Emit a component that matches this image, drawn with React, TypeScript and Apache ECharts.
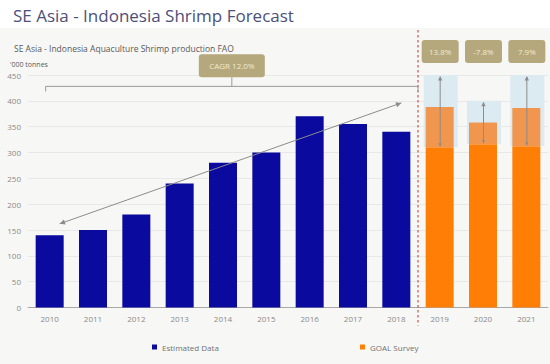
import React, { useEffect, useRef } from 'react';
import * as echarts from 'echarts';

const years = ['2010', '2011', '2012', '2013', '2014', '2015', '2016', '2017', '2018', '2019', '2020', '2021'];
const estimated = [140, 150, 180, 240, 280, 300, 370, 355, 340, null, null, null];
const goalBase = [null, null, null, null, null, null, null, null, null, 310, 316, 312];
const goalSurvey = [null, null, null, null, null, null, null, null, null, 388, 358, 386];
const forecastHigh = [null, null, null, null, null, null, null, null, null, 450, 400, 450];
const growthLabels = ['', '', '', '', '', '', '', '', '', '13.8%', '-7.8%', '7.9%'];
const yMin = 0;
const yMax = 450;
const yInterval = 50;
const cagrLabel = 'CAGR 12.0%';
const trendFrom = { year: '2010', value: 162 };
const trendTo = { year: '2018', value: 396 };
const bracketLevel = 428;
const bracketDrop = 418;

const mainTitle = 'SE Asia - Indonesia Shrimp Forecast';
const subTitle = 'SE Asia - Indonesia Aquaculture Shrimp production FAO';
const unitLabel = "'000 tonnes";

const FONT = '"Open Sans", "Noto Sans", sans-serif';
const GOLD = '#b5a87c';
const GOLD_TEXT = '#f1ead2';
const ARROW = '#8c8c8c';

function arrowHead(x1: number, y1: number, x2: number, y2: number, size: number, color: string) {
  const ang = Math.atan2(y2 - y1, x2 - x1);
  const a1 = ang + Math.PI - 0.45;
  const a2 = ang + Math.PI + 0.45;
  return {
    type: 'polygon',
    shape: {
      points: [
        [x2, y2],
        [x2 + size * Math.cos(a1), y2 + size * Math.sin(a1)],
        [x2 + size * Math.cos(a2), y2 + size * Math.sin(a2)],
      ],
    },
    style: { fill: color },
  };
}

export default function App() {
  const ref = useRef<HTMLDivElement>(null);

  useEffect(() => {
    if (!ref.current) return;
    const chart = echarts.init(ref.current, null, { renderer: 'svg' });

    const rangeData = years
      .map((_, i) => (forecastHigh[i] != null ? [i, goalBase[i], forecastHigh[i], goalSurvey[i]] : null))
      .filter((d) => d !== null);

    const option: any = {
      animation: false,
      backgroundColor: '#ffffff',
      textStyle: { fontFamily: FONT },
      title: [
        {
          text: mainTitle,
          left: 8,
          top: 2,
          textStyle: { fontSize: 17, fontWeight: 'normal', color: '#4d5079', fontFamily: FONT },
        },
        {
          text: subTitle,
          left: 9,
          top: 39,
          textStyle: { fontSize: 8.5, fontWeight: 'normal', color: '#5a5a5a', fontFamily: FONT },
        },
        {
          text: unitLabel,
          left: 5,
          top: 56,
          textStyle: { fontSize: 7, fontWeight: 'normal', color: '#5a5a5a', fontFamily: FONT },
        },
      ],
      legend: [
        {
          data: ['Estimated Data'],
          left: 152,
          top: 343,
          padding: 0,
          icon: 'rect',
          itemWidth: 5,
          itemHeight: 5,
          itemGap: 4,
          textStyle: { fontSize: 8, color: '#707070', fontFamily: FONT },
        },
        {
          data: ['GOAL Survey'],
          left: 360,
          top: 343,
          padding: 0,
          icon: 'rect',
          itemWidth: 5,
          itemHeight: 5,
          itemGap: 4,
          textStyle: { fontSize: 8, color: '#707070', fontFamily: FONT },
        },
      ],
      grid: { left: 28, right: 2, top: 75, bottom: 56.5, containLabel: false },
      xAxis: {
        type: 'category',
        data: years,
        axisTick: { show: false },
        axisLine: { lineStyle: { color: '#a8a8a8' } },
        axisLabel: { fontSize: 8, color: '#8a8a8a', margin: 7, fontFamily: FONT },
      },
      yAxis: {
        type: 'value',
        min: yMin,
        max: yMax,
        interval: yInterval,
        axisLine: { show: false },
        axisTick: { show: false },
        splitLine: { lineStyle: { color: '#e8e8e6' } },
        axisLabel: { fontSize: 8, color: '#8a8a8a', margin: 7, fontFamily: FONT },
      },
      series: [
        {
          type: 'custom',
          name: 'range',
          z: 1,
          data: rangeData,
          encode: { x: 0, y: [1, 2] },
          renderItem: (params: any, api: any) => {
            const idx = api.value(0);
            const lo = api.value(1);
            const hi = api.value(2);
            const p0 = api.coord([idx, lo]);
            const p1 = api.coord([idx, hi]);
            return {
              type: 'rect',
              shape: { x: p0[0] - 16, y: p1[1], width: 34, height: p0[1] - p1[1] },
              style: { fill: '#dcebf1' },
            };
          },
        },
        {
          type: 'bar',
          name: 'Estimated Data',
          stack: 'all',
          barWidth: 28,
          z: 2,
          data: estimated,
          itemStyle: { color: '#0a0a9e' },
        },
        {
          type: 'bar',
          name: 'GOAL Survey',
          stack: 'all',
          barWidth: 28,
          z: 2,
          data: goalBase,
          itemStyle: { color: '#ff7f06' },
        },
        {
          type: 'bar',
          name: 'GOAL Survey Range',
          stack: 'all',
          barWidth: 28,
          z: 2,
          data: goalSurvey.map((v, i) => (v != null && goalBase[i] != null ? v - (goalBase[i] as number) : null)),
          itemStyle: { color: '#f0964e' },
        },
        {
          type: 'custom',
          name: 'arrows',
          z: 5,
          clip: false,
          data: rangeData,
          encode: { x: 0, y: [1, 2] },
          renderItem: (params: any, api: any) => {
            const idx = api.value(0);
            const lo = api.value(1);
            const hi = api.value(2);
            const p0 = api.coord([idx, lo]);
            const p1 = api.coord([idx, hi]);
            const cx = p0[0] + 0.5;
            const topY = params.coordSys.y;
            return {
              type: 'group',
              children: [
                {
                  type: 'line',
                  shape: { x1: cx, y1: p0[1] - 1, x2: cx, y2: p1[1] + 2 },
                  style: { stroke: ARROW, lineWidth: 1 },
                },
                arrowHead(cx, p0[1], cx, p1[1] + 1, 5, ARROW),
                arrowHead(cx, p1[1], cx, p0[1] - 1, 3.5, ARROW),
                {
                  type: 'rect',
                  shape: { x: cx - 18.5, y: topY - 35, width: 37, height: 23, r: 3 },
                  style: { fill: GOLD },
                },
                {
                  type: 'text',
                  style: {
                    text: growthLabels[idx],
                    x: cx,
                    y: topY - 23.5,
                    fill: GOLD_TEXT,
                    fontSize: 8,
                    fontFamily: FONT,
                    align: 'center',
                    verticalAlign: 'middle',
                  },
                },
              ],
            };
          },
        },
      ],
    };

    chart.setOption(option);

    const xPx = (y: string) => chart.convertToPixel({ xAxisIndex: 0 }, y) as number;
    const yPx = (v: number) => chart.convertToPixel({ yAxisIndex: 0 }, v) as number;
    const boundary = (xPx('2018') + xPx('2019')) / 2;
    const bracketLeft = xPx('2010') - 4;
    const bY = yPx(bracketLevel);
    const bDrop = yPx(bracketDrop);
    const bMid = (bracketLeft + boundary) / 2;
    const bottomY = yPx(0);

    const tx1 = xPx(trendFrom.year) + 10;
    const ty1 = yPx(trendFrom.value);
    const tx2 = xPx(trendTo.year) + 5;
    const ty2 = yPx(trendTo.value);

    chart.setOption({
      graphic: [
        {
          type: 'rect',
          z: -100,
          silent: true,
          shape: { x: 0, y: 28, width: 550, height: 336 },
          style: { fill: '#f7f7f5' },
        },
        {
          type: 'line',
          z: 10,
          shape: { x1: boundary, y1: 30, x2: boundary, y2: bottomY + 18 },
          style: { stroke: '#c8544e', lineWidth: 1.2, lineDash: [2.5, 2.5] },
        },
        {
          type: 'polyline',
          z: 10,
          shape: { points: [[bracketLeft, bDrop], [bracketLeft, bY], [boundary, bY], [boundary, bDrop]] },
          style: { stroke: '#9a9a9a', lineWidth: 1, fill: 'none' },
        },
        {
          type: 'line',
          z: 10,
          shape: { x1: bMid, y1: bY, x2: bMid, y2: bY - 9 },
          style: { stroke: '#9a9a9a', lineWidth: 1 },
        },
        {
          type: 'rect',
          z: 10,
          shape: { x: bMid - 33, y: bY - 32, width: 66, height: 23, r: 3 },
          style: { fill: GOLD },
        },
        {
          type: 'text',
          z: 11,
          style: {
            text: cagrLabel,
            x: bMid,
            y: bY - 20.5,
            fill: GOLD_TEXT,
            fontSize: 8,
            fontFamily: FONT,
            align: 'center',
            verticalAlign: 'middle',
          },
        },
        {
          type: 'line',
          z: 10,
          shape: { x1: tx1, y1: ty1, x2: tx2, y2: ty2 },
          style: { stroke: ARROW, lineWidth: 1 },
        },
        { ...arrowHead(tx1, ty1, tx2, ty2, 6, ARROW), z: 10 },
        { ...arrowHead(tx2, ty2, tx1, ty1, 6, ARROW), z: 10 },
      ],
    });

    return () => chart.dispose();
  }, []);

  return <div ref={ref} style={{ position: 'fixed', left: 0, top: 0, width: 550, height: 364 }} />;
}
